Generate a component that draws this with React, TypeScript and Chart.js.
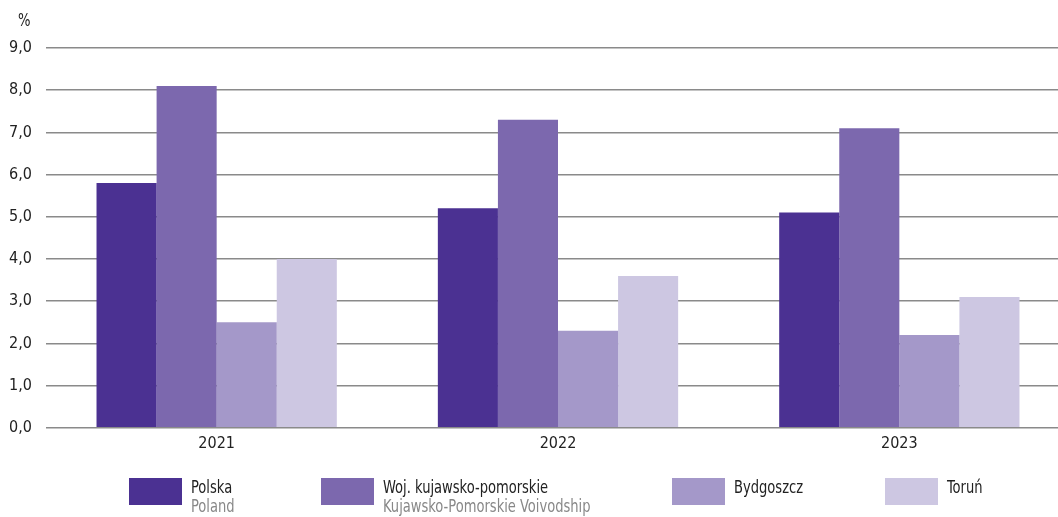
import React, { useEffect, useRef } from "react";
import { Chart, registerables } from "chart.js";

Chart.register(...registerables);

const categories = ["2021", "2022", "2023"];
const polska = [5.8, 5.2, 5.1];
const wojKujPom = [8.1, 7.3, 7.1];
const bydgoszcz = [2.5, 2.3, 2.2];
const torun = [4.0, 3.6, 3.1];

const seriesLabels = ["Polska", "Woj. kujawsko-pomorskie", "Bydgoszcz", "Toruń"];
const seriesSubLabels = ["Poland", "Kujawsko-Pomorskie Voivodship", "", ""];
const seriesColors = ["#4b3192", "#7c68ae", "#a498c9", "#cdc7e2"];

const FONT = "'Liberation Sans Narrow', 'DejaVu Sans Condensed', 'Roboto', sans-serif";

export default function App() {
  const ref = useRef<HTMLCanvasElement | null>(null);

  useEffect(() => {
    if (!ref.current) return;
    const chart = new Chart(ref.current, {
      type: "bar",
      data: {
        labels: categories,
        datasets: [polska, wojKujPom, bydgoszcz, torun].map((d, i) => ({
          label: seriesLabels[i],
          data: d,
          backgroundColor: seriesColors[i],
          borderWidth: 0,
          categoryPercentage: 0.704,
          barPercentage: 1.0,
        })),
      },
      options: {
        animation: false,
        responsive: false,
        maintainAspectRatio: false,
        layout: { padding: { top: 48, bottom: 58, left: 0, right: 0 } },
        plugins: { legend: { display: false }, tooltip: { enabled: false } },
        scales: {
          x: {
            grid: { display: false, drawTicks: false },
            border: { display: false },
            ticks: { color: "#222", font: { family: FONT, size: 16 }, padding: 6 },
          },
          y: {
            min: 0,
            max: 9,
            afterFit: (s: any) => {
              s.width = 46;
            },
            ticks: {
              stepSize: 1,
              color: "#222",
              padding: 14,
              font: { family: FONT, size: 16 },
              callback: (v: any) => Number(v).toFixed(1).replace(".", ","),
            },
            grid: { color: "#8a8a8a", lineWidth: 1.5, drawTicks: false },
            border: { display: false },
          },
        },
      },
    });
    return () => chart.destroy();
  }, []);

  const legendPos = [
    { sq: 129, tx: 191 },
    { sq: 321, tx: 383 },
    { sq: 672, tx: 734 },
    { sq: 885, tx: 947 },
  ];

  return (
    <div style={{ position: "fixed", left: 0, top: 0, width: 1058, height: 517, overflow: "hidden", background: "#fff", fontFamily: FONT }}>
      <canvas ref={ref} width={1070} height={517} style={{ position: "absolute", left: 0, top: 0, width: 1070, height: 517 }} />
      <div style={{ position: "absolute", left: 18, top: 10, fontSize: 17, color: "#222", transform: "scaleX(0.86)", transformOrigin: "left top" }}>%</div>
      {seriesLabels.map((l, i) => (
        <React.Fragment key={l}>
          <div style={{ position: "absolute", left: legendPos[i].sq, top: 478, width: 53, height: 27, background: seriesColors[i] }} />
          <div style={{ position: "absolute", left: legendPos[i].tx, top: 478, fontSize: 17, lineHeight: "19px", color: "#222", whiteSpace: "nowrap", transform: "scaleX(0.855)", transformOrigin: "left top" }}>
            <div>{l}</div>
            {seriesSubLabels[i] ? <div style={{ color: "#888" }}>{seriesSubLabels[i]}</div> : null}
          </div>
        </React.Fragment>
      ))}
    </div>
  );
}
